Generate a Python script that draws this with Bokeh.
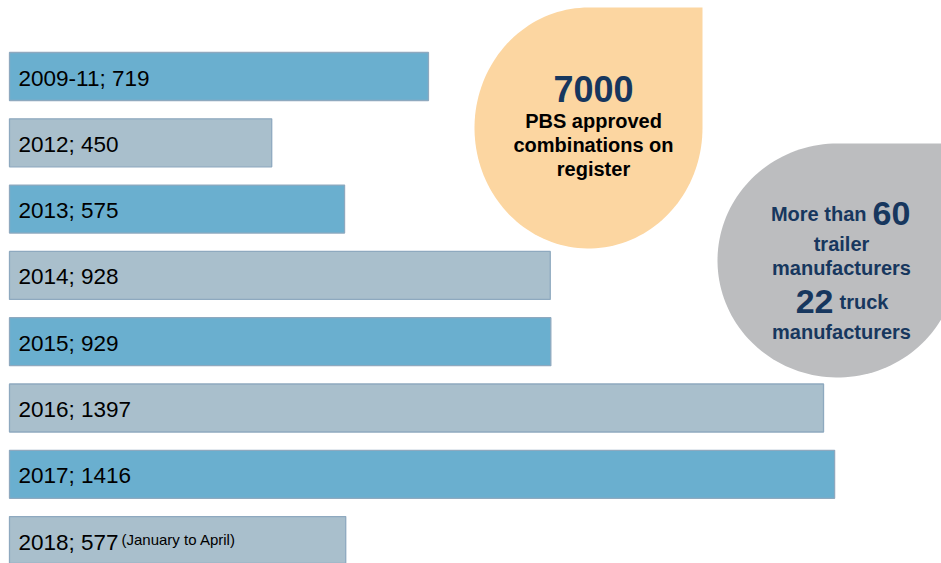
import numpy as np
from bokeh.plotting import figure
from bokeh.models import ColumnDataSource, Range1d
from bokeh.core.properties import value
from bokeh.embed import file_html
from bokeh.resources import INLINE

# ---- data ----
periods = ["2009-11", "2012", "2013", "2014", "2015", "2016", "2017", "2018"]
approvals = [719, 450, 575, 928, 929, 1397, 1416, 577]
notes = ["", "", "", "", "", "", "", "(January to April)"]
bar_colors = ["#6AAFCF", "#A9BFCC"]

registered_total = "7000"
trailer_makers = "60"
truck_makers = "22"

FONT = value("Liberation Sans")

# ---- layout (pixel geometry of the page) ----
W, H = 941, 563
ORIGIN = 0              # window position of the figure's top-left corner
SCALE = 0.5827          # px per approval
PITCH = 66.3            # px between bars
X0_WIN = 9              # window x of value 0
Y0_WIN = 76             # window y of first bar centre
TXT_DY = -8             # text baseline correction


def X(wx):
    return (wx - X0_WIN) / SCALE


def Y(wy):
    return (wy - Y0_WIN) / PITCH


p = figure(width=W, height=H, output_backend="svg", toolbar_location=None,
           min_border=0, x_range=Range1d(X(ORIGIN), X(ORIGIN + W)),
           y_range=Range1d(Y(ORIGIN + H), Y(ORIGIN)))
p.axis.visible = False
p.grid.visible = False
p.outline_line_color = None
p.background_fill_color = "white"
p.border_fill_color = "white"


def teardrop(cx, cy, rx, ry, n=120):
    xs = [cx, cx + rx, cx + rx]
    ys = [cy - ry, cy - ry, cy]
    for t in np.linspace(0, 1.5 * np.pi, n):
        xs.append(cx + rx * np.cos(t))
        ys.append(cy + ry * np.sin(t))
    return [X(v) for v in xs], [Y(v) for v in ys]


# decorative bubbles
px_, py_ = teardrop(588, 127.5, 114, 120.5)
p.patch(px_, py_, fill_color="#FCD6A1", line_color=None)
gx_, gy_ = teardrop(837, 260, 120, 117)
p.patch(gx_, gy_, fill_color="#BCBDBF", line_color=None)

# bars
idx = list(range(len(periods)))
src = ColumnDataSource(dict(
    y=idx,
    v=approvals,
    color=[bar_colors[i % 2] for i in idx],
    label=[f"{a}; {b}" for a, b in zip(periods, approvals)],
    note=notes,
))
p.hbar(y="y", left=0, right="v", height=48 / PITCH, source=src,
       fill_color="color", line_color="#8EA9BF", line_width=1.3)
p.text(x=0, y="y", text="label", source=src, x_offset=9, y_offset=9.5 + TXT_DY,
       text_font=FONT, text_font_size="22.5px", text_color="#000000",
       text_baseline="alphabetic", text_align="left")
p.text(x=0, y="y", text="note", source=src, x_offset=112, y_offset=6.5 + TXT_DY,
       text_font=FONT, text_font_size="15px", text_color="#000000",
       text_baseline="alphabetic", text_align="left")

NAVY = "#17375E"


def label(wx, wy, txt, size, color, align="center"):
    p.text(x=[X(wx)], y=[Y(wy + TXT_DY)], text=[txt], text_font=FONT,
           text_font_size=size, text_font_style="bold", text_color=color,
           text_baseline="alphabetic", text_align=align)


# peach bubble text
label(593, 96, registered_total, "36px", NAVY)
label(593, 128, "PBS approved", "20px", "#000000")
label(593, 152, "combinations on", "20px", "#000000")
label(593, 176, "register", "20px", "#000000")

# grey bubble text
label(866, 221, "More than", "20px", NAVY, "right")
label(872, 221, trailer_makers, "34px", NAVY, "left")
label(841, 251, "trailer", "20px", NAVY)
label(841, 275, "manufacturers", "20px", NAVY)
label(833, 309, truck_makers, "34px", NAVY, "right")
label(839, 309, "truck", "20px", NAVY, "left")
label(841, 339, "manufacturers", "20px", NAVY)

open("out.html", "w").write(file_html(p, INLINE))
